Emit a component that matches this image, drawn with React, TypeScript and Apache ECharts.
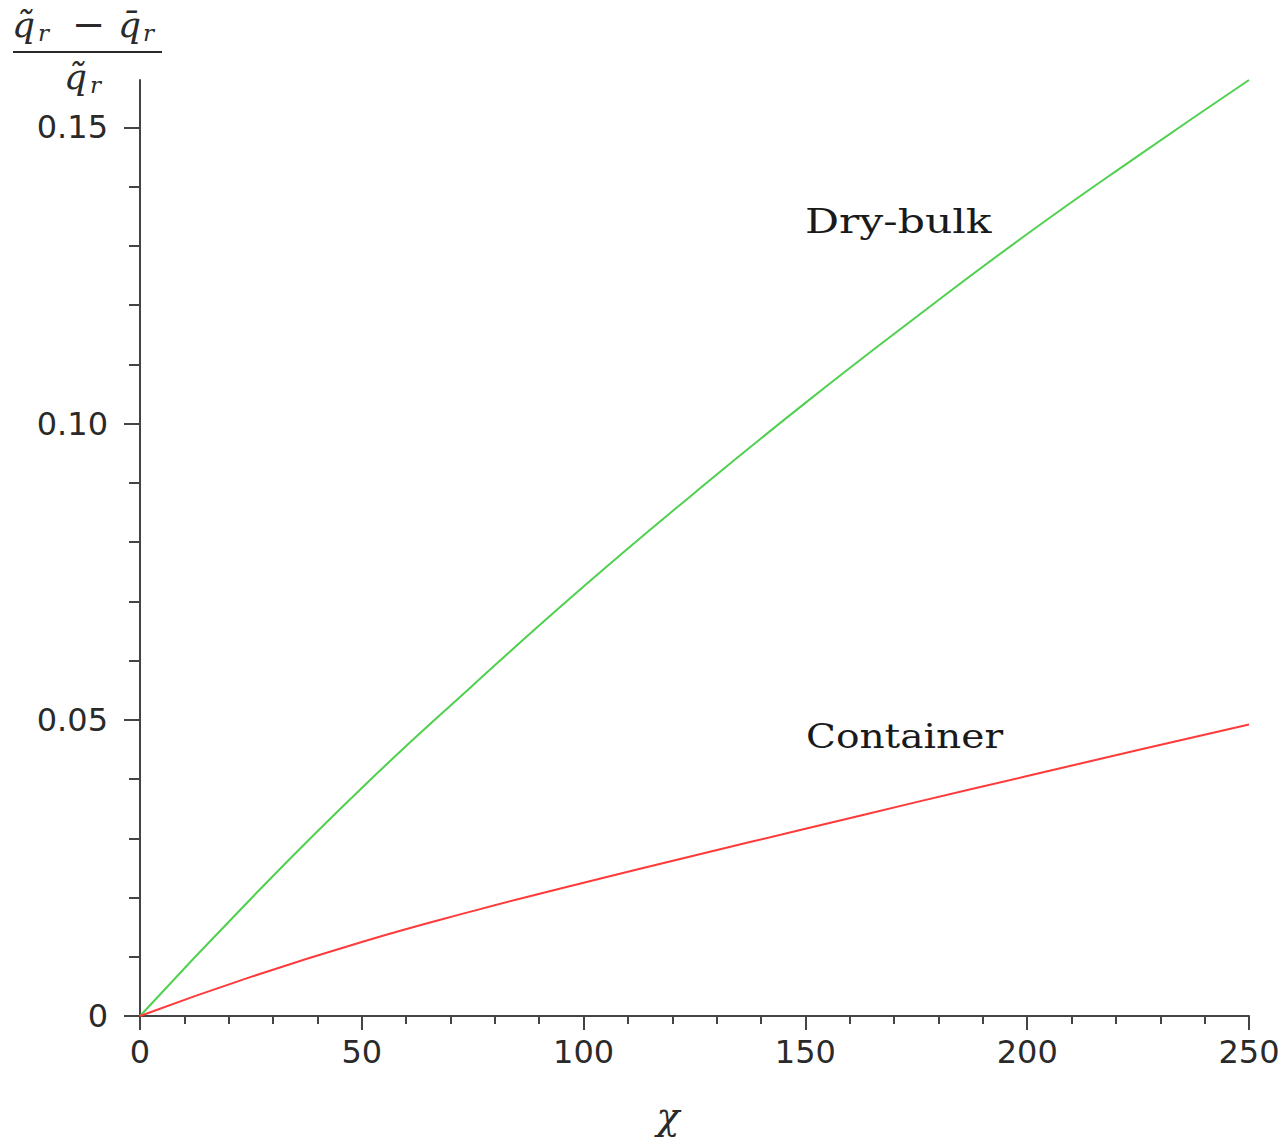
import React, { useEffect, useRef } from "react";
import * as echarts from "echarts";

const chi: number[] = [0, 25, 50, 75, 100, 125, 150, 175, 200, 225, 250];
const dryBulk: number[] = [0, 0.0198, 0.0385, 0.0558, 0.0725, 0.0883, 0.1035, 0.118, 0.132, 0.1452, 0.158];
const container: number[] = [0, 0.0066, 0.0125, 0.0177, 0.0225, 0.0271, 0.0316, 0.0361, 0.0405, 0.0449, 0.0492];
const yMajorTicks: number[] = [0, 0.05, 0.1, 0.15];
const yMinorTicks: number[] = [0.01, 0.02, 0.03, 0.04, 0.06, 0.07, 0.08, 0.09, 0.11, 0.12, 0.13, 0.14];
const seriesNames: string[] = ["Dry-bulk", "Container"];

const AXIS_COLOR = "#444";
const TEXT_COLOR = "#2a2a2a";
const LABEL_FONT = "DejaVu Sans";
const MATH_FONT = "DejaVu Serif";

export default function App() {
  const ref = useRef<HTMLDivElement>(null);
  useEffect(() => {
    if (!ref.current) return;
    const chart = echarts.init(ref.current, undefined, { renderer: "svg" });
    const mathText = (x: number, y: number, text: string, size: number, italic = true) => ({
      type: "text",
      x,
      y,
      style: {
        text,
        font: `${italic ? "italic " : ""}${size}px "${MATH_FONT}"`,
        fill: TEXT_COLOR,
        textAlign: "left",
        textVerticalAlign: "middle",
      },
    });
    chart.setOption({
      animation: false,
      backgroundColor: "#ffffff",
      grid: { left: 140, right: 36, top: 80, bottom: 129, containLabel: false, outerBoundsMode: "none" },
      xAxis: {
        type: "value",
        min: 0,
        max: 250,
        interval: 50,
        axisLine: { show: true, lineStyle: { color: AXIS_COLOR, width: 2 } },
        axisTick: { show: true, length: 14, lineStyle: { color: AXIS_COLOR, width: 2 } },
        minorTick: { show: true, splitNumber: 5, length: 8, lineStyle: { color: AXIS_COLOR, width: 2 } },
        splitLine: { show: false },
        axisLabel: { margin: 20, fontSize: 32, fontFamily: LABEL_FONT, color: TEXT_COLOR },
      },
      yAxis: [
        {
          type: "value",
          position: "left",
          min: 0,
          max: 0.158,
          axisLine: { show: true, lineStyle: { color: AXIS_COLOR, width: 2 } },
          axisTick: { show: true, length: 16, customValues: yMajorTicks, lineStyle: { color: AXIS_COLOR, width: 2 } },
          splitLine: { show: false },
          axisLabel: {
            customValues: yMajorTicks,
            margin: 32,
            fontSize: 32,
            fontFamily: LABEL_FONT,
            color: TEXT_COLOR,
            formatter: (v: number) => (v === 0 ? "0" : v.toFixed(2)),
          },
        },
        {
          type: "value",
          position: "left",
          min: 0,
          max: 0.158,
          axisLine: { show: false },
          axisTick: { show: true, length: 11, customValues: yMinorTicks, lineStyle: { color: AXIS_COLOR, width: 2 } },
          splitLine: { show: false },
          axisLabel: { show: false },
        },
      ],
      series: [
        {
          name: seriesNames[0],
          type: "line",
          data: chi.map((x, i) => [x, dryBulk[i]]),
          smooth: true,
          showSymbol: false,
          lineStyle: { color: "#4fd04f", width: 2 },
          z: 3,
        },
        {
          name: seriesNames[1],
          type: "line",
          data: chi.map((x, i) => [x, container[i]]),
          smooth: true,
          showSymbol: false,
          lineStyle: { color: "#ff3a3a", width: 2 },
          z: 3,
        },
      ],
      graphic: [
        // y-axis title: (q̃_r − q̄_r) / q̃_r
        mathText(12, 24, "q\u0303", 36),
        mathText(38, 33, "r", 23),
        mathText(72, 24, "\u2212", 40, false),
        mathText(118, 24, "q\u0304", 36),
        mathText(143, 33, "r", 23),
        { type: "line", shape: { x1: 13, y1: 52, x2: 162, y2: 52 }, style: { stroke: TEXT_COLOR, lineWidth: 2 } },
        mathText(64, 76, "q\u0303", 36),
        mathText(90, 85, "r", 23),
        // x-axis title
        {
          type: "text",
          x: 668,
          y: 1116,
          style: {
            text: "\u03c7",
            font: `italic 38px "${MATH_FONT}"`,
            fill: TEXT_COLOR,
            textAlign: "center",
            textVerticalAlign: "middle",
          },
        },
        // curve annotations
        {
          type: "text",
          x: 805,
          y: 221,
          scaleX: 1.25,
          style: {
            text: seriesNames[0],
            font: `34px "${MATH_FONT}"`,
            fill: "#1a1a1a",
            textAlign: "left",
            textVerticalAlign: "middle",
          },
        },
        {
          type: "text",
          x: 806,
          y: 736,
          scaleX: 1.15,
          style: {
            text: seriesNames[1],
            font: `34px "${MATH_FONT}"`,
            fill: "#1a1a1a",
            textAlign: "left",
            textVerticalAlign: "middle",
          },
        },
      ],
    });
    return () => chart.dispose();
  }, []);
  return (
    <div
      ref={ref}
      style={{ position: "absolute", left: 0, top: 0, width: 1285, height: 1145, background: "#fff" }}
    />
  );
}
